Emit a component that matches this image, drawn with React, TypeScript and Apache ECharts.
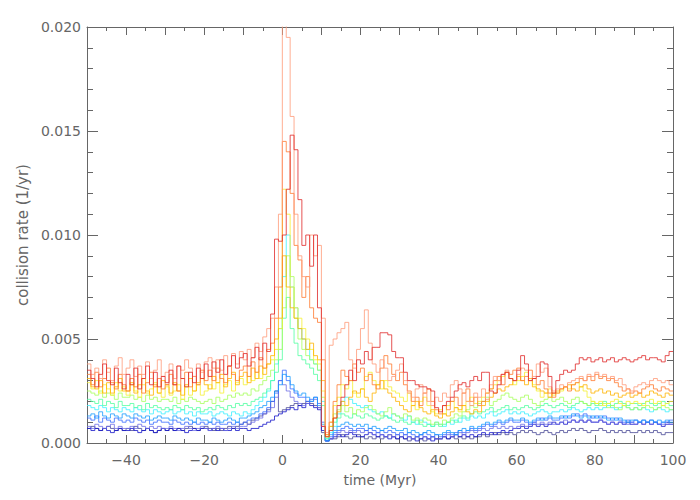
import React, { useEffect, useRef } from "react";
import * as echarts from "echarts";

// bin left edges (Myr), 1 Myr bins from -50 to 99
const binStart = -50;
const binCount = 150;
// values in units of 1e-4 per yr
const navy = [
  7,8,7,6,7,8,7,6,7,6, 7,6,8,7,6,7,6,5,6,7, 6,7,6,7,6,7,8,7,6,7, 8,7,6,7,6,7,8,7,8,9, 10,9,11,12,13,14,16,20,25,15,
  16,17,18,19,18,19,20,19,18,17, 5,1,2,2,3,4,3,2,3,4, 3,2,3,2,3,2,3,4,3,2, 3,2,1,2,3,2,1,2,3,2, 2,3,2,3,2,3,2,3,2,3,
  3,4,3,4,5,4,5,4,5,4, 5,6,5,6,5,4,5,6,5,4, 5,6,5,6,7,6,7,6,5,6, 6,7,6,5,6,5,6,5,6,5, 5,6,5,6,5,6,5,4,5,5,
];
const darkBlue = [
  7,6,7,6,7,6,5,6,7,6, 6,7,6,5,6,7,6,5,6,7, 6,7,6,7,6,5,6,7,6,7, 7,6,7,6,7,6,6,7,6,7, 7,6,7,7,8,9,10,11,13,14,
  15,16,17,16,18,17,19,18,17,16, 6,1,2,3,4,3,4,5,4,3, 3,4,5,4,3,4,3,2,3,2, 3,2,3,2,1,2,3,2,1,2, 2,3,2,3,4,3,4,3,4,3,
  4,5,4,5,4,5,6,5,6,7, 7,8,7,8,9,8,9,8,9,10, 9,10,9,10,11,10,11,10,11,10, 10,11,10,9,10,9,10,9,10,9, 9,10,9,10,9,10,9,8,9,9,
];
const periwinkle = [
  8,7,9,8,7,8,9,7,8,7, 7,8,7,9,8,7,8,7,8,7, 7,8,7,6,7,8,7,6,7,8, 7,6,7,8,7,6,7,8,7,8, 8,9,10,11,12,14,15,17,22,30,
  28,25,22,20,19,18,19,20,21,17, 8,1,2,4,5,6,5,6,5,6, 5,6,5,4,5,4,3,4,3,4, 3,4,3,2,3,4,3,2,3,2, 2,3,4,3,4,5,4,5,6,5,
  6,7,6,7,8,7,8,7,8,7, 8,9,8,9,10,9,10,9,10,9, 9,10,11,10,11,10,11,10,11,10, 10,11,10,9,10,9,10,9,9,10, 9,10,9,10,9,10,9,9,10,9,
];
const blue = [
  12,11,13,10,12,11,10,12,11,10, 11,10,12,11,10,11,9,10,11,10, 10,9,11,10,9,10,9,10,9,10, 9,10,9,10,9,9,10,9,10,9, 10,11,12,12,14,15,17,20,24,30,
  35,30,26,24,22,22,20,21,22,19, 10,1,3,5,6,7,8,7,6,7, 7,6,7,6,5,6,5,6,5,4, 5,4,5,4,3,4,5,4,3,4, 3,4,5,4,5,6,5,6,7,6,
  7,8,9,8,9,10,9,10,11,10, 10,11,10,9,10,11,12,11,12,11, 11,12,13,12,13,14,13,14,13,12, 13,12,13,12,11,12,11,10,11,10, 11,10,11,10,11,10,9,10,10,11,
];
const azure = [
  13,14,12,15,13,12,14,13,12,14, 13,12,14,13,12,13,11,12,13,12, 12,11,13,12,11,12,11,10,12,11, 11,10,12,11,10,11,12,11,10,12, 12,13,14,15,17,18,20,22,25,28,
  33,32,28,25,23,24,22,20,22,18, 9,1,4,6,8,9,10,9,8,9, 8,9,7,8,7,6,7,8,7,6, 6,7,5,6,5,4,5,6,5,4, 4,5,6,5,4,6,7,6,8,7,
  8,9,10,9,10,11,10,11,12,11, 11,12,11,10,11,12,11,12,13,12, 12,13,12,13,14,13,12,13,12,13, 12,13,12,11,12,11,12,11,10,11, 11,10,11,10,11,10,11,10,11,10,
];
const cyan = [
  18,17,16,18,17,15,17,16,15,17, 16,15,17,16,15,16,14,16,15,14, 15,16,14,15,16,14,15,13,15,14, 14,15,13,14,15,14,13,15,14,13, 15,14,16,18,20,22,25,30,38,55,
  80,100,75,65,55,50,45,40,38,35, 20,2,5,8,14,20,22,21,19,18, 17,18,16,15,14,15,13,12,14,13, 12,11,13,10,9,11,10,9,8,10, 9,8,10,9,11,10,12,11,13,12,
  13,12,14,15,13,14,15,16,14,15, 14,15,14,13,14,15,16,15,14,15, 15,16,15,16,17,16,15,16,17,16, 17,16,17,18,17,16,17,18,17,16, 17,16,17,16,15,16,17,16,15,16,
];
const aquamarine = [
  21,20,19,21,18,20,19,17,20,18, 18,19,17,18,16,19,17,18,17,16, 17,16,18,17,16,18,17,16,17,15, 16,17,16,18,17,16,18,17,19,18, 19,18,20,21,22,24,26,30,34,40,
  60,70,55,48,42,40,38,36,33,30, 18,2,6,10,12,14,13,12,14,13, 12,14,13,12,11,12,13,12,11,10, 11,10,9,10,11,9,8,9,8,9, 8,9,10,11,10,12,13,12,14,15,
  14,15,16,17,15,16,17,18,16,17, 16,17,18,17,16,17,18,19,18,17, 18,19,18,17,18,19,20,19,18,19, 18,19,20,19,18,19,20,19,18,19, 19,18,19,20,19,18,19,20,19,18,
];
const lightGreen = [
  25,24,23,25,22,24,23,21,24,22, 22,23,21,22,20,23,21,22,20,21, 21,20,22,19,21,20,22,21,20,19, 20,21,19,22,20,21,23,22,24,23, 24,23,26,25,28,30,32,35,40,45,
  65,90,80,60,50,45,42,40,38,35, 22,3,8,14,16,18,15,17,14,16, 15,17,18,16,14,13,15,17,14,13, 12,14,13,11,12,10,12,11,9,10, 9,11,10,12,14,13,15,16,18,17,
  19,20,22,18,20,21,23,24,22,21, 20,22,23,21,19,18,20,21,22,20, 21,22,20,19,21,22,20,19,18,20, 19,18,19,17,18,17,16,18,17,16, 17,16,17,18,17,16,17,18,17,16,
];
const yellow = [
  29,26,30,24,28,26,23,29,25,27, 23,28,25,22,28,24,26,29,24,22, 27,23,25,28,21,27,23,25,28,23, 25,28,26,29,24,28,30,25,29,31, 28,32,30,34,31,36,38,40,45,55,
  122,110,75,65,60,55,50,45,40,38, 25,4,10,18,22,28,26,30,24,22, 26,32,34,30,28,26,30,27,25,24, 22,20,24,18,16,20,22,18,15,14, 16,14,18,20,17,15,18,20,22,19,
  20,22,24,26,28,30,32,34,31,28, 30,32,34,30,28,25,22,24,26,23, 24,25,27,26,28,29,27,25,22,20, 19,20,18,19,20,21,19,18,20,19, 20,19,18,20,21,19,20,18,19,20,
];
const gold = [
  31,27,26,30,24,29,24,27,31,25, 25,29,24,28,31,25,23,28,24,30, 28,24,29,25,23,28,31,25,29,31, 28,26,32,29,33,27,31,34,28,32, 34,29,36,31,37,33,38,42,50,60,
  90,75,65,60,55,50,45,48,42,40, 30,3,8,12,15,20,18,22,25,24, 26,22,20,24,28,30,26,24,22,20, 18,16,15,18,20,17,15,14,16,13, 12,14,13,15,17,16,18,15,14,16,
  15,18,20,22,24,26,25,27,28,30, 32,30,28,31,27,26,25,24,22,24, 25,26,27,28,26,25,27,28,26,24, 25,26,24,25,23,24,22,23,24,22, 23,24,22,23,25,24,23,22,24,23,
];
const orange = [
  33,28,34,27,31,36,29,26,33,28, 25,31,27,33,24,29,34,27,31,26, 28,33,28,25,31,34,27,32,28,35, 30,35,30,36,31,29,37,33,30,35, 37,32,39,34,41,36,45,48,60,75,
  145,140,120,95,88,70,80,65,60,58, 40,4,10,20,28,35,32,30,38,34, 36,30,33,28,26,36,42,38,33,30, 34,28,25,20,22,18,24,26,20,16, 14,18,16,20,22,18,24,26,20,22,
  18,20,24,26,30,32,28,34,33,35, 36,30,32,35,31,28,30,26,24,22, 24,26,27,25,28,29,31,30,32,30, 33,31,32,30,31,29,27,25,26,24, 25,24,26,27,28,26,25,27,26,25,
];
const salmon = [
  38,33,36,31,40,34,30,37,41,33, 36,40,32,37,33,39,31,35,40,32, 34,38,31,37,35,40,36,32,38,34, 39,41,36,40,35,42,37,43,38,44, 40,45,41,48,44,51,55,60,75,110,
  215,195,157,110,90,80,75,100,90,95, 60,5,47,50,53,55,58,40,36,45, 55,64,48,38,34,40,36,30,32,35, 38,30,24,22,26,28,24,20,18,22, 20,24,22,28,30,26,24,20,18,24,
  22,26,21,28,32,30,33,35,31,30, 33,36,35,30,32,38,34,36,27,25, 26,28,27,29,30,31,32,30,33,32, 34,32,33,31,32,30,31,28,26,25, 27,28,29,28,30,31,30,29,30,28,
];
const red = [
  35,31,27,33,38,30,28,36,29,26, 33,28,36,26,31,37,28,34,27,32, 29,35,28,37,31,27,34,29,36,31, 38,32,39,34,40,33,37,42,36,41, 43,37,41,46,40,48,44,62,98,97,
  100,122,148,141,117,95,100,85,100,65, 8,3,6,12,18,22,28,35,30,40, 38,44,40,46,46,53,53,52,44,41, 41,34,30,30,28,27,27,26,25,17, 15,18,20,22,25,28,29,27,30,32,
  30,34,34,25,24,28,33,34,31,30, 35,42,38,30,31,32,39,38,32,24, 30,33,35,34,35,38,41,40,41,39, 40,41,39,40,41,39,40,41,40,39, 40,41,42,40,41,41,40,39,42,44,
];

const seriesValues = [navy, darkBlue, periwinkle, blue, azure, cyan, aquamarine, lightGreen, yellow, gold, orange, salmon, red];
const seriesColors = ["#4a4a96", "#1414c8", "#6e6ee6", "#3a6cff", "#1a9cff", "#3cf0ff", "#50ffa0", "#a8ff5c", "#f5f032", "#ffb400", "#ff7a30", "#ff9a78", "#e02828"];
const xTicks = [-40, -20, 0, 20, 40, 60, 80, 100];
const yTicks = [0, 0.005, 0.01, 0.015, 0.02];

const axisGray = "#666666";
const textGray = "#666666";
const font = "DejaVu Sans";

function toPairs(vals: number[]): [number, number][] {
  const out: [number, number][] = vals.map((v, i) => [binStart + i, v * 1e-4]);
  out.push([binStart + binCount, vals[vals.length - 1] * 1e-4]);
  return out;
}

export default function App() {
  const ref = useRef<HTMLDivElement>(null);
  useEffect(() => {
    if (!ref.current) return;
    const chart = echarts.init(ref.current, undefined, { renderer: "svg" });
    const xCommon = {
      type: "value" as const,
      min: -50,
      max: 100,
      interval: 10,
      axisLine: { show: true, onZero: false, lineStyle: { color: axisGray, width: 1 } },
      axisTick: { show: true, inside: true, length: 8, lineStyle: { color: axisGray } },
      minorTick: { show: true, splitNumber: 2, length: 4, lineStyle: { color: axisGray } },
      splitLine: { show: false },
    };
    const yCommon = {
      type: "value" as const,
      min: 0,
      max: 0.02,
      interval: 0.005,
      axisLine: { show: true, onZero: false, lineStyle: { color: axisGray, width: 1 } },
      axisTick: { show: true, inside: true, length: 11, lineStyle: { color: axisGray } },
      minorTick: { show: true, splitNumber: 5, length: 6, lineStyle: { color: axisGray } },
      splitLine: { show: false },
    };
    chart.setOption({
      animation: false,
      backgroundColor: "#ffffff",
      grid: { left: 87, right: 27, top: 27, bottom: 57 },
      xAxis: [
        {
          ...xCommon,
          position: "bottom",
          name: "time (Myr)",
          nameLocation: "middle",
          nameGap: 30,
          nameTextStyle: { color: textGray, fontFamily: font, fontSize: 14 },
          axisLabel: {
            color: textGray,
            fontFamily: font,
            fontSize: 14,
            margin: 10,
            formatter: (v: number) => (xTicks.includes(v) ? String(v).replace("-", "\u2212") : ""),
          },
        },
        { ...xCommon, position: "top", axisLabel: { show: false } },
      ],
      yAxis: [
        {
          ...yCommon,
          position: "left",
          name: "collision rate (1/yr)",
          nameLocation: "middle",
          nameGap: 52,
          nameTextStyle: { color: textGray, fontFamily: font, fontSize: 15 },
          axisLabel: {
            color: textGray,
            fontFamily: font,
            fontSize: 14,
            margin: 6,
            formatter: (v: number) => (yTicks.some((t) => Math.abs(t - v) < 1e-9) ? v.toFixed(3) : ""),
          },
        },
        { ...yCommon, position: "right", axisLabel: { show: false } },
      ],
      series: seriesValues.map((vals, i) => ({
        type: "line",
        step: "end",
        showSymbol: false,
        symbol: "none",
        clip: true,
        data: toPairs(vals),
        lineStyle: { color: seriesColors[i], width: 1, opacity: 0.8 },
        itemStyle: { color: seriesColors[i] },
        z: 2 + i,
      })),
    });
    return () => chart.dispose();
  }, []);
  return (
    <div
      ref={ref}
      style={{ position: "absolute", left: 0, top: 0, width: 700, height: 500, background: "#fff" }}
    />
  );
}
